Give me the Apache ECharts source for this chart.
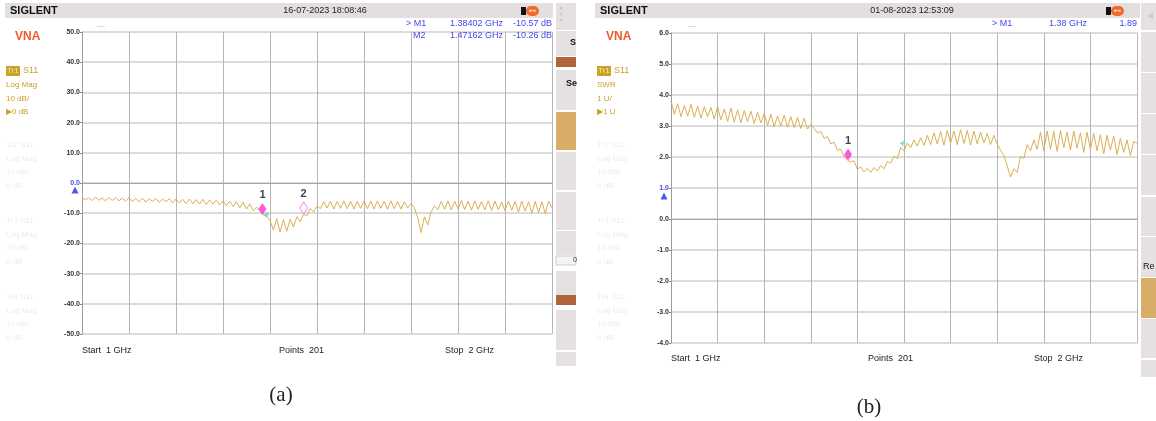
<!DOCTYPE html>
<html>
<head>
<meta charset="utf-8">
<title>VNA S11</title>
<script src="https://cdn.jsdelivr.net/npm/echarts@6/dist/echarts.min.js"></script>
<style>
  html, body { margin: 0; padding: 0; background: #fff; }
  #chart { width: 1156px; height: 421px; }
</style>
</head>
<body>
<div id="chart"></div>
<script>
// sweep 1 GHz .. 2 GHz
const sweep = Array.from({ length: 141 }, (_, i) => 1 + i / 140);

// (a) S11 log mag, dB
const s11LogMag = [
  -4.8, -5.6, -4.9, -5.8, -4.7, -5.7, -5.0, -5.9, -4.8, -5.8, -4.9, -5.9, -5.0, -6.0, -4.9,
  -6.1, -5.1, -6.2, -5.0, -6.3, -5.2, -6.1, -5.1, -6.4, -5.3, -6.2, -5.2, -6.5, -5.3,
  -6.6, -5.4, -6.8, -5.3, -6.9, -5.5, -7.0, -5.4, -7.1, -5.6, -7.0, -5.7, -7.3, -5.9,
  -7.5, -6.0, -7.8, -6.2, -8.2, -6.4, -8.6, -6.9, -9.2, -8.0, -9.4, -10.6, -11.0, -12.3,
  -15.6, -11.8, -16.3, -12.1, -16.0, -12.0, -14.6, -11.2, -12.8, -10.3, -10.9, -8.4, -9.6, -7.6,
  -8.5, -6.2, -8.3, -6.0, -8.6, -6.1, -8.4, -5.9, -8.5, -6.0, -8.6, -6.1, -8.4, -5.9,
  -8.5, -6.0, -8.6, -5.9, -8.4, -6.0, -8.7, -5.9, -8.5, -6.1, -8.6, -6.2, -8.3, -6.8,
  -8.2, -11.5, -16.4, -11.2, -13.9, -9.5, -7.6, -8.8,
  -6.1, -8.7, -5.9, -8.9, -6.0, -8.6, -5.8, -8.8, -6.0, -9.0, -5.9, -8.7, -6.1, -8.9, -5.9,
  -9.1, -6.0, -8.8, -6.2, -9.2, -6.0, -9.0, -6.1, -9.6, -6.0, -9.3, -6.2, -10.0, -6.1,
  -9.8, -6.3, -10.1, -6.0, -8.2
];

// (b) S11 SWR
const s11Swr = [
  3.80, 3.38, 3.72, 3.30, 3.66, 3.32, 3.70, 3.28, 3.64, 3.25, 3.62, 3.30, 3.60, 3.22, 3.62,
  3.20, 3.55, 3.15, 3.58, 3.12, 3.52, 3.10, 3.50, 3.14, 3.48, 3.08, 3.45, 3.10, 3.40,
  3.02, 3.38, 2.98, 3.32, 3.00, 3.35, 2.96, 3.30, 2.95, 3.28, 2.92, 3.25, 2.90, 3.05,
  2.92, 2.78, 2.82, 2.60, 2.66, 2.42, 2.48, 2.22, 2.25, 2.02, 1.90, 1.84, 1.88, 1.60,
  1.68, 1.52, 1.64, 1.50, 1.66, 1.55, 1.72, 1.62, 1.85, 1.80, 2.02, 1.95, 2.30, 2.20,
  2.45, 2.30, 2.55, 2.35, 2.62, 2.38, 2.70, 2.40, 2.78, 2.42, 2.82, 2.38, 2.86, 2.45,
  2.84, 2.40, 2.88, 2.44, 2.86, 2.38, 2.84, 2.42, 2.80, 2.45, 2.76, 2.40, 2.70, 2.42,
  2.22, 2.05, 1.72, 1.35, 1.62, 1.50, 2.02, 1.95, 2.40, 2.20, 2.55, 2.25,
  2.80, 2.20, 2.84, 2.25, 2.82, 2.18, 2.86, 2.30, 2.80, 2.22, 2.84, 2.28, 2.78, 2.15,
  2.80, 2.25, 2.76, 2.20, 2.72, 2.10, 2.70, 2.22, 2.68, 2.08, 2.60, 2.15, 2.55, 2.05,
  2.50, 2.45
];

// markers
const markerFreqA = [1.38402, 1.47162];
const markerValA = [-10.57, -10.26];
const markerFreqB = [1.38];
const markerValB = [1.89];

// y scales
const scaleA = { min: -50, max: 50, step: 10, ref: 0 };
const scaleB = { min: -4, max: 6, step: 1, ref: 1 };

const FONT = '"Liberation Sans", Arial, sans-serif';
const GOLD = '#c9a227';
const FADE = '#ececec';
const BLUE = '#4646f0';
const TRACE = '#d8af55';

const myChart = echarts.init(document.getElementById('chart'));

function txt(x, y, text, color, size, opts) {
  opts = opts || {};
  return {
    type: 'text', x: x, y: y, z: 10,
    style: {
      text: text, fill: color,
      font: (opts.bold ? 'bold ' : '') + size + 'px ' + (opts.family || FONT),
      textAlign: opts.align || 'left', textVerticalAlign: 'middle'
    }
  };
}
function box(x, y, w, h, fill, stroke) {
  return {
    type: 'rect', z: 1, shape: { x: x, y: y, width: w, height: h },
    style: { fill: fill, stroke: stroke || null, lineWidth: 1 }
  };
}

// instrument screen decoration for one panel
function chrome(cfg) {
  const els = [];
  const ox = cfg.ox;
  // header bar
  els.push(box(cfg.hx0, 3, cfg.hx1 - cfg.hx0, 15, '#e3dfdf'));
  els.push(txt(cfg.hx0 + 5, 11, 'SIGLENT', '#111', 11, { bold: true }));
  els.push(txt(cfg.dateX, 11, cfg.date, '#222', 9, { align: 'center' }));
  els.push(box(cfg.iconX, 7, 5, 8, '#111'));
  els.push({ type: 'rect', z: 2, shape: { x: cfg.iconX + 5, y: 6, width: 13, height: 10, r: 5 }, style: { fill: '#f26b2a' } });
  els.push(txt(cfg.iconX + 11, 11, '⊷', '#fff', 7, { align: 'center' }));
  els.push(txt(ox + 97, 26, '----', '#aaa', 6));
  // left trace panel
  els.push(txt(ox + 15, 37, 'VNA', '#f05a2a', 12, { bold: true }));
  els.push(box(ox + 6, 66, 14, 10, '#c9a227'));
  els.push(txt(ox + 7, 71, 'Tr1', '#f6e7a8', 8));
  els.push(txt(ox + 23, 71, 'S11', GOLD, 9));
  cfg.tr1.forEach((t, i) => els.push(txt(ox + 6, 85 + i * 13.5, t, GOLD, 8)));
  [145, 221, 297].forEach((y0, k) => {
    ['Tr' + (k + 2) + ' S11', 'Log Mag', '10 dB/', '0 dB'].forEach((t, i) =>
      els.push(txt(ox + 6, y0 + i * 13.5, t, FADE, 8)));
  });
  // bottom sweep info
  els.push(txt(cfg.gx, cfg.by, 'Start  1 GHz', '#222', 9));
  els.push(txt(cfg.gx + 197, cfg.by, 'Points  201', '#222', 9));
  els.push(txt(cfg.gx + 363, cfg.by, 'Stop  2 GHz', '#222', 9));
  // caption
  els.push(txt(cfg.capX, cfg.capY, cfg.cap, '#222', 21, { align: 'center', family: '"Liberation Serif", "DejaVu Serif", serif' }));
  return els;
}

const graphics = [].concat(
  chrome({
    ox: 0, hx0: 5, hx1: 553, dateX: 325, date: '16-07-2023 18:08:46', iconX: 521,
    tr1: ['Log Mag', '10 dB/', '▶0 dB'], gx: 82, by: 351, capX: 281, capY: 395, cap: '(a)'
  }),
  chrome({
    ox: 591, hx0: 595, hx1: 1140, dateX: 912, date: '01-08-2023 12:53:09', iconX: 1106,
    tr1: ['SWR', '1 U/', '▶1 U'], gx: 671, by: 359, capX: 869, capY: 407, cap: '(b)'
  })
);

// marker readouts
graphics.push(
  txt(406, 24, '> M1', BLUE, 9), txt(450, 24, '1.38402 GHz', BLUE, 9), txt(552, 24, '-10.57 dB', BLUE, 9, { align: 'right' }),
  txt(413, 36, 'M2', BLUE, 9), txt(450, 36, '1.47162 GHz', BLUE, 9), txt(552, 36, '-10.26 dB', BLUE, 9, { align: 'right' }),
  txt(992, 24, '> M1', BLUE, 9), txt(1049, 24, '1.38 GHz', BLUE, 9), txt(1137, 24, '1.89', BLUE, 9, { align: 'right' })
);

// softkey column on the right of each screen
const keysA = [[3, 27], [31, 25], [57, 10, '#b0663a'], [70, 40], [112, 38, '#d8ad68'], [152, 38], [192, 38],
  [231, 24], [256, 9, '#f5f5f5'], [271, 24], [295, 10, '#b0663a'], [310, 40], [352, 14]];
keysA.forEach(k => graphics.push(box(556, k[0], 20, k[1], k[2] || '#e6e1e1')));
graphics.push(box(556, 256, 20, 9, '#f5f5f5', '#cfcfcf'));
graphics.push(txt(570, 43, 'S', '#111', 9, { bold: true }), txt(566, 84, 'Se', '#111', 9, { bold: true }),
  txt(573, 260, '0', '#333', 7));
[8, 14, 20].forEach(y => graphics.push({ type: 'circle', z: 2, shape: { cx: 561, cy: y, r: 1.5 }, style: { fill: '#cfcaca' } }));
const keysB = [[3, 27], [32, 40], [73, 40], [114, 40], [155, 40], [197, 39], [237, 40], [278, 40, '#d8ad68'], [319, 39], [360, 17]];
keysB.forEach(k => graphics.push(box(1141, k[0], 15, k[1], k[2] || '#e6e1e1')));
graphics.push(txt(1147, 16, '◀', '#cfcaca', 8), txt(1143, 267, 'Re', '#111', 9));

function yLabel(ref) {
  return v => (v === ref ? '{ref|' + v.toFixed(1) + '}' : v.toFixed(1));
}
function yAxisFor(idx, sc) {
  return {
    gridIndex: idx, type: 'value', min: sc.min, max: sc.max, interval: sc.step,
    axisLine: { show: true, lineStyle: { color: '#9c9c9c' } },
    axisTick: { show: true, length: 2, lineStyle: { color: '#888' } },
    splitLine: { lineStyle: { color: '#dcdcdc', width: 2 } },
    axisLabel: {
      fontSize: 7, fontWeight: 'bold', color: '#333', fontFamily: FONT, margin: 2,
      showMinLabel: true, showMaxLabel: true, formatter: yLabel(sc.ref),
      rich: { ref: { color: BLUE, fontSize: 7, fontFamily: FONT } }
    }
  };
}
function xAxisFor(idx) {
  return {
    gridIndex: idx, type: 'value', min: 1, max: 2, interval: 0.1,
    axisLabel: { show: false }, axisTick: { show: false },
    axisLine: { lineStyle: { color: '#a6a6a6' } },
    splitLine: { lineStyle: { color: '#b6b6b6', width: 1 } }
  };
}

const plusSymbol = 'path://M3,0h2v3h3v2h-3v3h-3v-3h-3v-2h3z';

const option = {
  animation: false,
  textStyle: { fontFamily: FONT },
  grid: [
    { left: 82, top: 32, width: 470, height: 302 },
    { left: 671, top: 33, width: 466, height: 310 }
  ],
  xAxis: [xAxisFor(0), xAxisFor(1)],
  yAxis: [yAxisFor(0, scaleA), yAxisFor(1, scaleB)],
  graphic: { elements: graphics },
  series: [
    {
      type: 'line', xAxisIndex: 0, yAxisIndex: 0, showSymbol: false,
      data: sweep.map((f, i) => [f, s11LogMag[i]]),
      lineStyle: { color: TRACE, width: 1 }, z: 3
    },
    {
      type: 'line', xAxisIndex: 1, yAxisIndex: 1, showSymbol: false,
      data: sweep.map((f, i) => [f, s11Swr[i]]),
      lineStyle: { color: TRACE, width: 1 }, z: 3
    },
    {
      type: 'scatter', xAxisIndex: 0, yAxisIndex: 0, z: 5,
      symbol: 'diamond', symbolSize: [8, 12], symbolOffset: [0, -6],
      data: markerFreqA.map((f, i) => ({
        value: [f, markerValA[i]], name: String(i + 1),
        itemStyle: i === 0 ? { color: '#ff2fd6' } : { color: '#fff', borderColor: '#f07af0', borderWidth: 1 }
      })),
      label: { show: true, position: 'top', distance: 2, formatter: '{b}', color: '#111', fontSize: 11, fontWeight: 'bold' }
    },
    {
      type: 'scatter', xAxisIndex: 1, yAxisIndex: 1, z: 5,
      symbol: 'diamond', symbolSize: [8, 12], symbolOffset: [0, -6],
      data: markerFreqB.map((f, i) => ({ value: [f, markerValB[i]], name: String(i + 1) })),
      itemStyle: { color: '#ff2fd6' },
      label: { show: true, position: 'top', distance: 2, formatter: '{b}', color: '#111', fontSize: 11, fontWeight: 'bold' }
    },
    // reference level triangles
    {
      type: 'scatter', xAxisIndex: 0, yAxisIndex: 0, clip: false, z: 5,
      symbol: 'triangle', symbolSize: [7, 7], symbolOffset: [-7, 7],
      itemStyle: { color: '#1f2fe0' }, data: [[1, scaleA.ref]]
    },
    {
      type: 'scatter', xAxisIndex: 1, yAxisIndex: 1, clip: false, z: 5,
      symbol: 'triangle', symbolSize: [7, 7], symbolOffset: [-7, 8],
      itemStyle: { color: '#1f2fe0' }, data: [[1, scaleB.ref]]
    },
    // small cyan cursor crosses
    {
      type: 'scatter', xAxisIndex: 0, yAxisIndex: 0, z: 4, symbol: plusSymbol, symbolSize: 5,
      itemStyle: { color: '#3fd8e0' }, data: [[1.393, -10.4]]
    },
    {
      type: 'scatter', xAxisIndex: 1, yAxisIndex: 1, z: 4, symbol: plusSymbol, symbolSize: 5,
      itemStyle: { color: '#3fd8e0' }, data: [[1.497, 2.44]]
    }
  ]
};

myChart.setOption(option);

window.addEventListener('resize', () => {
  myChart.resize();
});
</script>
</body>
</html>
